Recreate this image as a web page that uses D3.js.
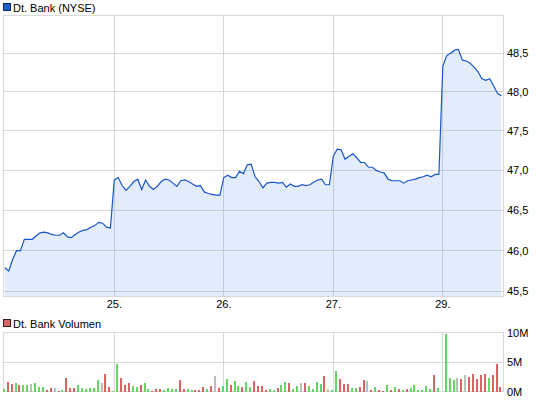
<!DOCTYPE html>
<html><head><meta charset="utf-8">
<script src="https://cdn.jsdelivr.net/npm/d3@7"></script>
<style>
body{margin:0;background:#fff}
svg{display:block}
text{font-family:"Liberation Sans",Arial,sans-serif;font-size:11px;fill:#000}
</style>
</head><body><svg id="c" width="545" height="401"></svg>
<script>
// ---- data ----
const days = ["24.", "25.", "26.", "27.", "29."];
const slotsPerDay = 28; // 15-minute periods per session
const price24 = [45.79,45.75,45.89,46.00,46.00,46.14,46.14,46.14,46.18,46.22,46.23,46.22,46.20,46.19,46.19,46.22,46.17,46.16,46.20,46.23,46.25,46.26,46.29,46.31,46.35,46.34,46.29,46.28];
const price25 = [46.88,46.91,46.81,46.75,46.80,46.86,46.89,46.76,46.88,46.80,46.76,46.80,46.86,46.89,46.88,46.84,46.80,46.87,46.88,46.86,46.83,46.80,46.81,46.73,46.71,46.70,46.69,46.69];
const price26 = [46.91,46.94,46.91,46.91,46.99,46.96,47.07,47.08,46.92,46.86,46.78,46.84,46.85,46.85,46.84,46.85,46.79,46.83,46.80,46.80,46.82,46.81,46.82,46.85,46.88,46.89,46.82,46.82];
const price27 = [47.18,47.27,47.26,47.14,47.18,47.21,47.16,47.10,47.10,47.04,47.04,47.00,46.98,46.97,46.89,46.87,46.87,46.87,46.84,46.87,46.88,46.89,46.91,46.92,46.94,46.92,46.95,46.95];
const price29 = [48.33,48.47,48.50,48.54,48.55,48.41,48.40,48.37,48.32,48.26,48.17,48.15,48.17,48.08,47.98,47.95];

// volumes in millions; day 24 includes the opening auction bar
const vol24 = [0.5,1.75,1.4,1.5,1.2,1.2,1.2,1.35,1.5,0.85,0.85,0.35,0.7,0.7,0.2,0.35,2.35,0.7,0.7,1.2,0.7,0.5,0.7,0.7,2.0,1.5,3.0,0.85,0.2];
const vol25 = [4.7,2.35,1.2,1.5,1.0,0.85,1.2,1.5,0.5,0.2,0.5,0.5,0.35,0.7,0.5,0.5,2.0,0.5,0.5,0.35,0.35,0.35,0.85,0.5,1.0,2.7,0.7,1.0];
const vol26 = [2.2,1.2,1.85,1.0,0.85,1.7,0.85,1.85,1.0,1.0,0.35,0.5,0.35,0.7,1.2,1.7,1.5,0.5,1.0,1.5,1.5,1.0,0.5,1.7,1.35,2.7,0.5,0.35];
const vol27 = [3.55,2.2,1.35,1.35,0.7,0.7,0.85,2.0,1.85,0.35,0.85,0.35,0.2,1.2,0.35,0.85,0.5,0.35,0.5,0.7,1.2,0.35,0.35,1.0,0.5,2.85,0.7];
const vol29 = [9.8,2.35,2.0,2.35,2.2,2.85,2.5,3.0,2.2,2.85,3.0,2.35,2.85,4.7,0.85];
// bar direction: u = up, d = down, n = unchanged
const dir24 = "udduduunuuuddnduddduuuuuunddu".split("");
const dir25 = "uddduuduuddduuuudduudddudndu".split("");
const dir26 = "uduuduudddduuduuduunduuuudnu".split("");
const dir27 = "uddduuddnduddudududuuuuuudud".split("");
const dir29 = "uuundnddddduddd".split("");

const priceTicks = [45.5, 46.0, 46.5, 47.0, 47.5, 48.0, 48.5];
const volTicks = [0, 5, 10];

// ---- chart ----
const svg = d3.select("#c");
const L = 3, R = 503;
const x = d3.scaleLinear().domain([0, 4]).range([4.8, 442.8]);
const y = d3.scaleLog().domain([45.444, 49.0]).range([296, 15]);
const yv = d3.scaleLinear().domain([0, 10]).range([392, 332.7]);
const px = v => Math.floor(v) + 0.5;
const grid = "#d9d9d9";

const priceDays = [price24, price25, price26, price27, price29];
const volDays = [vol24, vol25, vol26, vol27, vol29];
const dirDays = [dir24, dir25, dir26, dir27, dir29];

const pts = [];
priceDays.forEach((arr, d) => arr.forEach((v, k) => pts.push({t: d + k / slotsPerDay, v})));
const bars = [];
volDays.forEach((arr, d) => {
  const off = arr.length > slotsPerDay ? -1 : 0;
  arr.forEach((v, k) => bars.push({t: d + (k + off + 1) / slotsPerDay, v, dir: dirDays[d][k]}));
});

// price panel grid
const gP = svg.append("g").attr("shape-rendering", "crispEdges");
priceTicks.forEach(t => gP.append("line").attr("x1", L).attr("x2", R)
  .attr("y1", px(y(t))).attr("y2", px(y(t))).attr("stroke", grid));
[1,2,3,4].forEach(d => gP.append("line").attr("x1", px(x(d))).attr("x2", px(x(d)))
  .attr("y1", 15).attr("y2", 296).attr("stroke", grid));
gP.append("rect").attr("x", L + 0.5).attr("y", 15.5).attr("width", R - L).attr("height", 281)
  .attr("fill", "none").attr("stroke", grid);

// area + line
svg.append("path").datum(pts)
  .attr("d", d3.area().x(p => x(p.t)).y0(296).y1(p => y(p.v)))
  .attr("fill", "rgb(60,120,230)").attr("fill-opacity", 0.14);
svg.append("path").datum(pts)
  .attr("d", d3.line().x(p => x(p.t)).y(p => y(p.v)))
  .attr("fill", "none").attr("stroke", "#1a56c8").attr("stroke-width", 1.2);

// price axis labels
priceTicks.forEach(t => svg.append("text").attr("x", 507).attr("y", y(t) + 4)
  .text(d3.format(".1f")(t).replace(".", ",")));
[1,2,3,4].forEach(d => svg.append("text").attr("x", x(d)).attr("y", 308)
  .attr("text-anchor", "middle").text(days[d]));

// legend price
svg.append("rect").attr("x", 3.5).attr("y", 3.5).attr("width", 7).attr("height", 7)
  .attr("fill", "#1f5cc8").attr("stroke", "#0b2a6e").attr("shape-rendering", "crispEdges");
svg.append("text").attr("x", 13).attr("y", 12).text("Dt. Bank (NYSE)");

// volume panel
const gV = svg.append("g").attr("shape-rendering", "crispEdges");
gV.append("line").attr("x1", L).attr("x2", R).attr("y1", px(yv(5))).attr("y2", px(yv(5))).attr("stroke", grid);
[1,2,3,4].forEach(d => gV.append("line").attr("x1", px(x(d))).attr("x2", px(x(d)))
  .attr("y1", yv(10)).attr("y2", yv(0)).attr("stroke", grid));
gV.append("rect").attr("x", L + 0.5).attr("y", px(yv(10))).attr("width", R - L).attr("height", Math.round(yv(0) - yv(10)))
  .attr("fill", "none").attr("stroke", grid);

const col = {u: "#66d466", d: "#d96464", n: "#bdbdbd"};
svg.append("g").attr("shape-rendering", "crispEdges").selectAll("rect").data(bars).join("rect")
  .attr("x", b => Math.round(x(b.t)) - 2).attr("width", 2)
  .attr("y", b => Math.round(yv(b.v))).attr("height", b => Math.round(yv(0)) - Math.round(yv(b.v)))
  .attr("fill", b => col[b.dir]);

volTicks.forEach(t => svg.append("text").attr("x", 507).attr("y", yv(t) + 4).text(t + "M"));

svg.append("rect").attr("x", 3.5).attr("y", 319.5).attr("width", 7).attr("height", 7)
  .attr("fill", "#d96464").attr("stroke", "#3a2020").attr("shape-rendering", "crispEdges");
svg.append("text").attr("x", 13).attr("y", 328).text("Dt. Bank Volumen");
</script>
</body></html>
